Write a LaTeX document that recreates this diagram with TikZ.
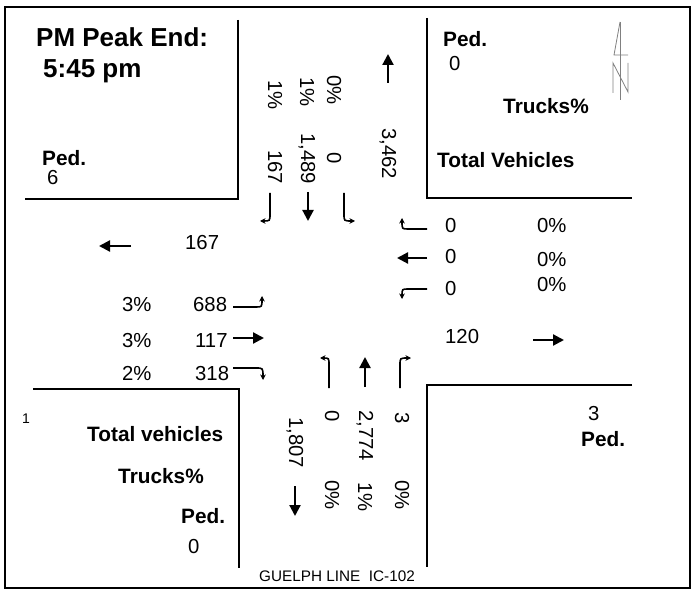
\documentclass[tikz,border=0pt]{standalone}
\usepackage{fontspec}
\setmainfont{Liberation Sans}
\usetikzlibrary{arrows.meta}
\begin{document}
\begin{tikzpicture}[x=1pt,y=-1pt,
  title/.style={font=\fontsize{26}{28}\selectfont\bfseries, inner sep=0pt, anchor=base west},
  lbl/.style={font=\fontsize{20.8}{22}\selectfont\bfseries, inner sep=0pt, anchor=base west},
  num/.style={font=\fontsize{20.3}{22}\selectfont, inner sep=0pt, anchor=base west},
  vnum/.style={font=\fontsize{20.3}{22}\selectfont, inner sep=0pt, rotate=-90, anchor=west},
  small/.style={font=\fontsize{15.3}{17}\selectfont, inner sep=0pt, anchor=base west},
  frame/.style={line width=1.8pt},
  box/.style={line width=1.5pt},
  big/.style={-{Triangle[length=11pt,width=11pt]}, line width=2.2pt},
  turn/.style={-{Stealth[length=5.5pt,width=5.5pt]}, line width=1.6pt},
]
\useasboundingbox (0,0) rectangle (694,596);
% outer frame
\draw[frame] (5,7) rectangle (690,588);
% corner boxes
\draw[box] (238,20) -- (238,199) -- (25,199);
\draw[box] (427,18) -- (427,198) -- (632,198);
\draw[box] (33,389) -- (239,389) -- (239,568);
\draw[box] (632,385) -- (427,385) -- (427,567);

% top-left
\node[title] (t1) at (36,47) {PM Peak End:};
\node[title] (t2) at (43,78) {5:45 pm};
\node[lbl] (pedNW) at (42,166) {Ped.};
\node[num] (pedNWv) at (47,185) {6};

% top-right
\node[lbl] (pedNE) at (443,47) {Ped.};
\node[num] (pedNEv) at (449,71) {0};
\node[lbl] (trNE) at (503,114) {Trucks\%};
\node[lbl] (tvNE) at (437,168) {Total Vehicles};
% north sign
\draw[gray, line width=0.8pt] (620,22) -- (620,100);
\draw[gray, line width=0.8pt] (620,22) -- (614,55) -- (628,55);
\draw[gray, line width=0.8pt] (613,93) -- (613,63) -- (628,92) -- (628,63);

% bottom-left
\node[font=\fontsize{14}{16}\selectfont, inner sep=0pt, anchor=base west] (one) at (22,423) {1};
\node[lbl] (tvSW) at (87,441) {Total vehicles};
\node[lbl] (trSW) at (118,483) {Trucks\%};
\node[lbl] (pedSW) at (181,523) {Ped.};
\node[num] (pedSWv) at (188,553) {0};

% bottom-right
\node[num] (pedSEv) at (588,420) {3};
\node[lbl] (pedSE) at (581,446) {Ped.};

% street name
\node[small] (street) at (259,581) {GUELPH LINE~~IC-102};

% north leg (rotated)
\node[vnum] (n1) at (275,80) {1\%};
\node[vnum] (n2) at (307,77) {1\%};
\node[vnum] (n3) at (334,75) {0\%};
\node[vnum] (n4) at (275,150) {167};
\node[vnum] (n5) at (307,133) {1,489};
\node[vnum] (n6) at (334,152) {0};
\node[vnum] (n7) at (388,128) {3,462};
\draw[big] (388,83) -- (388,54);
\draw[turn] (270,193) -- (270,214) .. controls (270,221) .. (260,221);
\draw[big] (308,192) -- (308,221);
\draw[turn] (344,193) -- (344,214) .. controls (344,221) .. (355,221);

% west leg
\draw[big] (131,246) -- (99,246);
\node[num] (w0) at (185,250) {167};
\node[num] (w1) at (122,312) {3\%};
\node[num] (w2) at (193,312) {688};
\node[num] (w3) at (122,347) {3\%};
\node[num] (w4) at (195,347) {117};
\node[num] (w5) at (122,380) {2\%};
\node[num] (w6) at (195,380) {318};
\draw[turn] (233,307) -- (256,307) .. controls (262,307) .. (262,296);
\draw[big] (233,338) -- (264,338);
\draw[turn] (233,368) -- (256,368) .. controls (263,368) .. (263,380);

% east leg
\draw[turn] (427,229) -- (408,229) .. controls (402,229) .. (402,218);
\node[num] (e1) at (445,233) {0};
\node[num] (e2) at (537,233) {0\%};
\draw[big] (427,258) -- (397,258);
\node[num] (e3) at (445,264) {0};
\node[num] (e4) at (537,267) {0\%};
\draw[turn] (427,289) -- (408,289) .. controls (402,289) .. (402,299);
\node[num] (e5) at (445,296) {0};
\node[num] (e6) at (537,292) {0\%};
\node[num] (e7) at (445,344) {120};
\draw[big] (533,340) -- (564,340);

% south leg
\draw[turn] (329,388) -- (329,365) .. controls (329,358) .. (320,358);
\draw[big] (365,387) -- (365,357);
\draw[turn] (400,388) -- (400,365) .. controls (400,358) .. (411,358);
\node[vnum] (s1) at (332,410) {0};
\node[vnum] (s2) at (365,410) {2,774};
\node[vnum] (s3) at (402,412) {3};
\node[vnum] (s4) at (295,417) {1,807};
\node[vnum] (s5) at (332,480) {0\%};
\node[vnum] (s6) at (365,482) {1\%};
\node[vnum] (s7) at (402,480) {0\%};
\draw[big] (295,486) -- (295,516);
\end{tikzpicture}
\end{document}
